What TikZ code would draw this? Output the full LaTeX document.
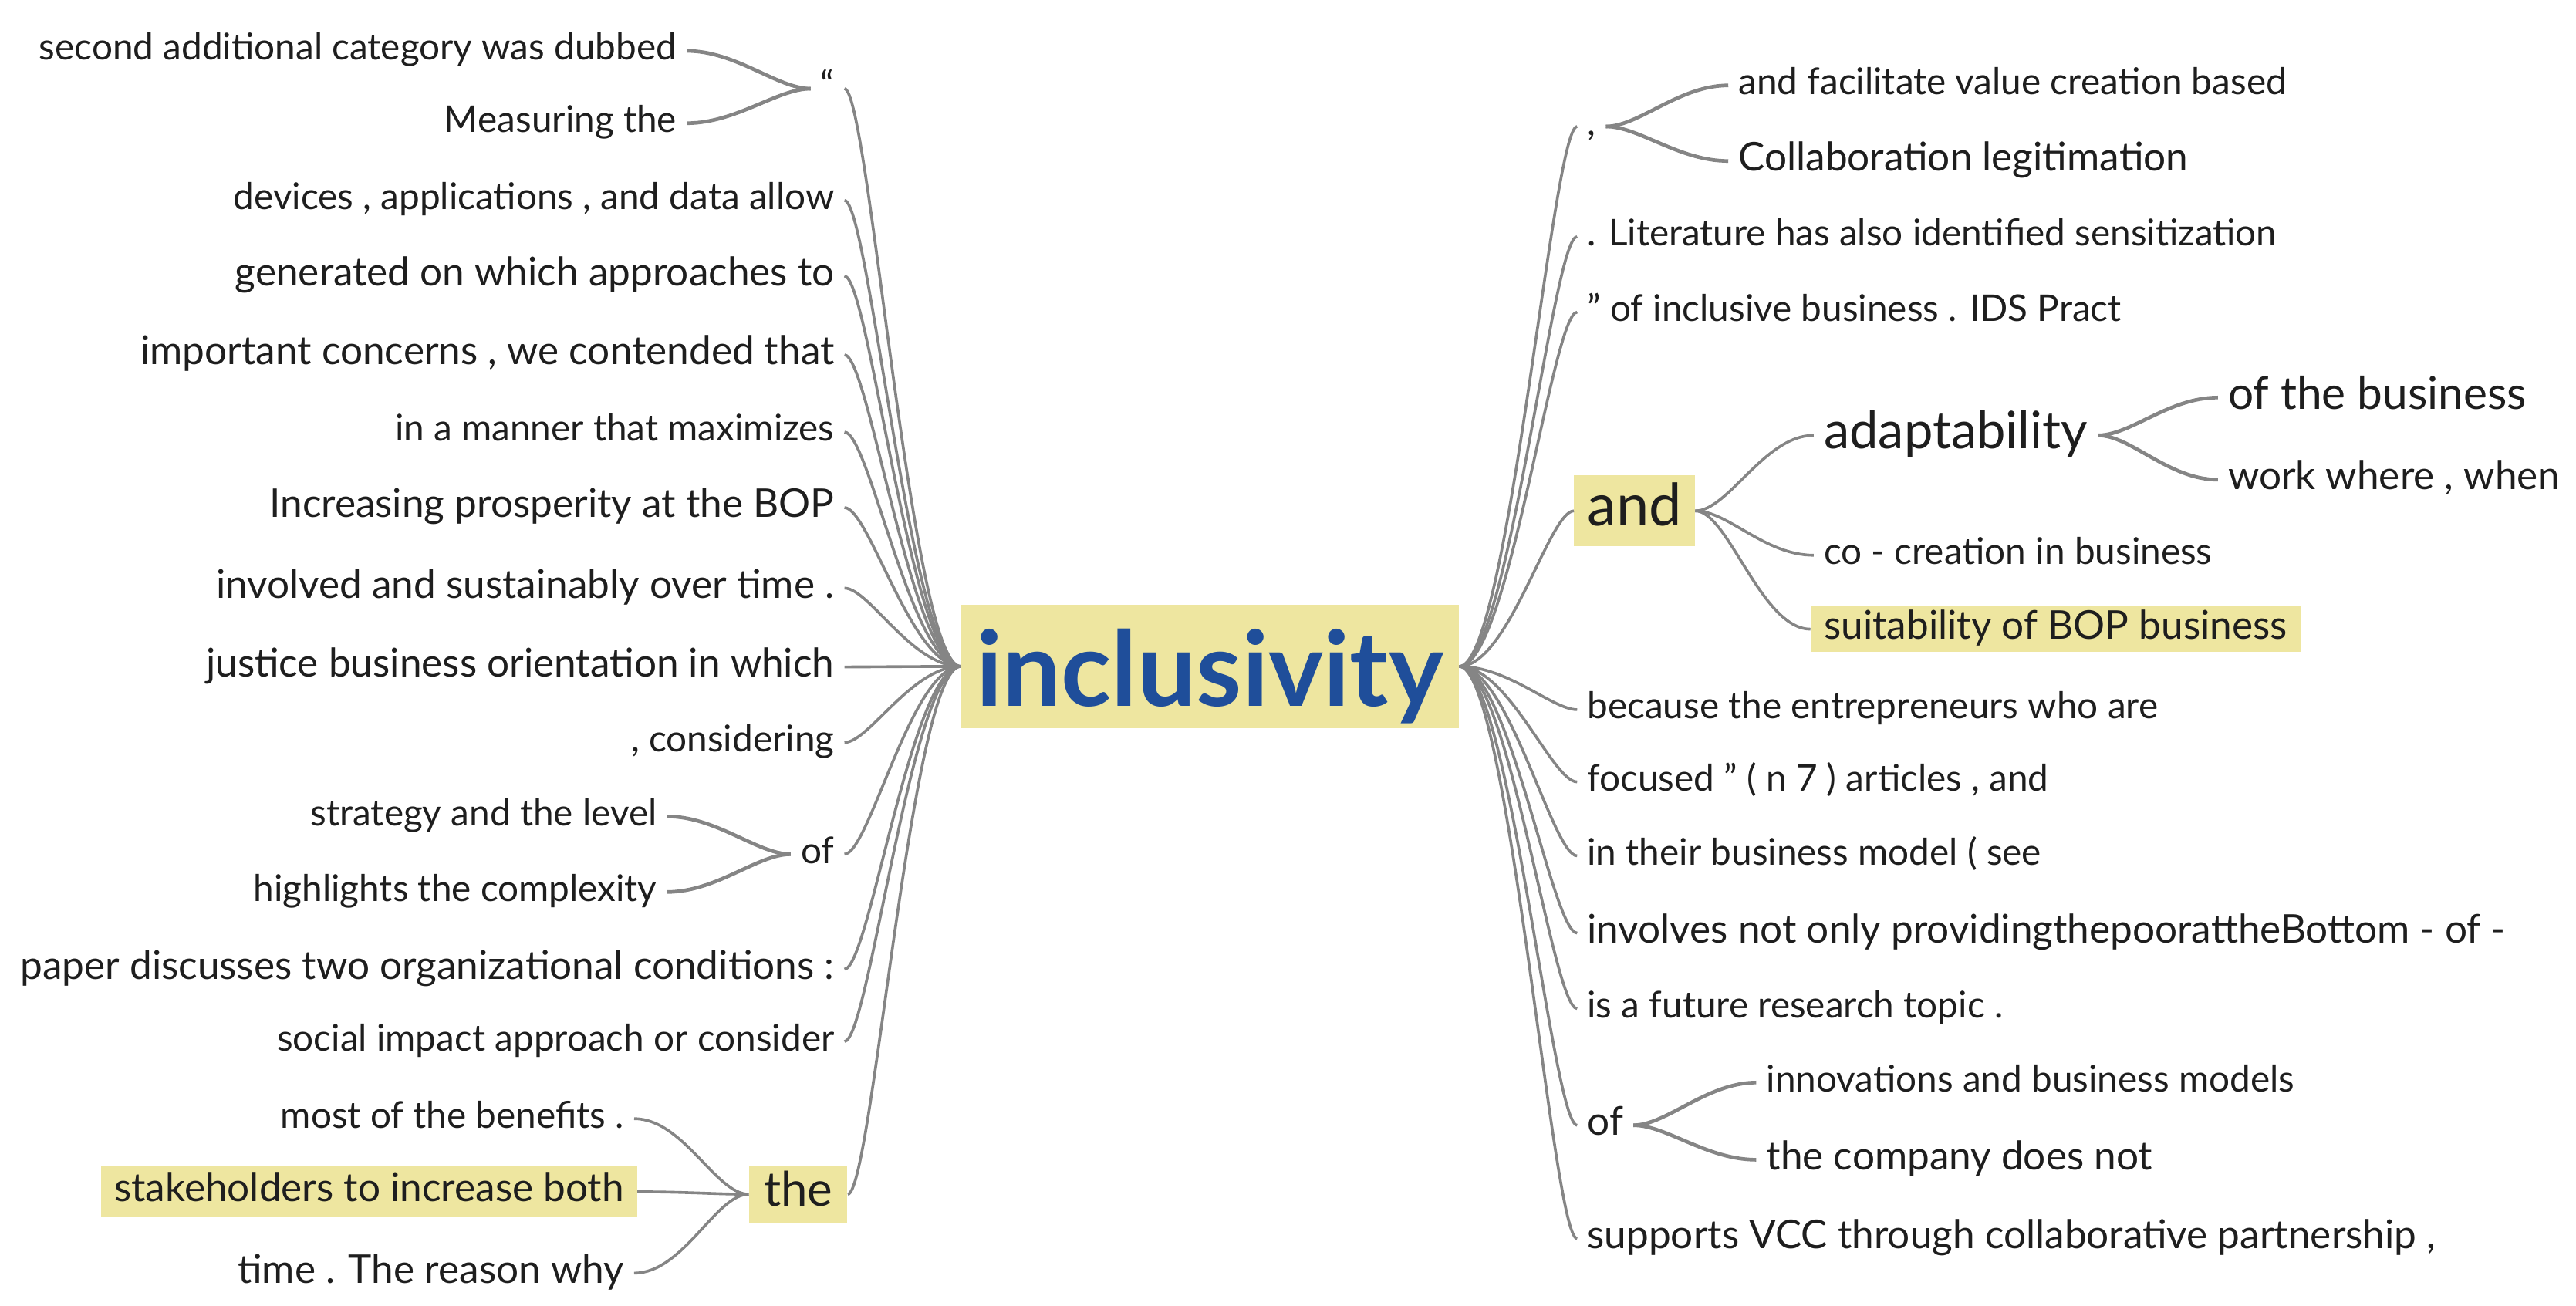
\documentclass[tikz,border=0pt]{standalone}
\usepackage{fontspec}
\setmainfont{Lato}
\definecolor{hilite}{HTML}{EEE6A0}
\definecolor{wordblue}{HTML}{1F4E9A}
\definecolor{linegray}{HTML}{858585}
\definecolor{textdark}{HTML}{1E1E1E}
\tikzset{
    word/.style={inner xsep=6pt, inner ysep=0pt, text=textdark, font=\fontsize{22.4}{26}\selectfont, text height=16.1pt, text depth=4.9pt},
    wordb/.style={word, font=\fontsize{24.1}{28}\selectfont, text height=17.3pt, text depth=5.3pt},
    midword/.style={word, font=\fontsize{27.5}{32}\selectfont, text height=19.8pt, text depth=6pt},
    bigword/.style={word, font=\fontsize{31.4}{36}\selectfont, text height=22.6pt, text depth=6.9pt},
    hiword/.style={fill=hilite, inner xsep=8pt},
    link/.style={draw=linegray, line width=1.7pt},
    sublink/.style={draw=linegray, line width=2.2pt},
}

\begin{document}
\begin{tikzpicture}[x=1pt, y=-1pt]
    \useasboundingbox (0,0) rectangle (1568,795);
    \node[fill=hilite, text=wordblue, font=\bfseries\fontsize{63.4}{70}\selectfont, inner sep=0pt, text height=58pt, text depth=10pt, minimum width=303pt, minimum height=75.5pt] (incl) at (736.5,405.7) {inclusivity};

    % left side
    \node[word, anchor=east] (qt) at (514,54) {“};
    \node[word, anchor=east] (dubbed) at (418,31) {second additional category was dubbed};
    \node[word, anchor=east] (measuring) at (418,75) {Measuring the};
    \node[word, anchor=east] (devices) at (514,122) {devices , applications , and data allow};
    \node[wordb, anchor=east] (generated) at (514,168) {generated on which approaches to};
    \node[wordb, anchor=east] (concerns) at (514,216) {important concerns , we contended that};
    \node[word, anchor=east] (manner) at (514,263) {in a manner that maximizes};
    \node[wordb, anchor=east] (prosperity) at (514,309) {Increasing prosperity at the BOP};
    \node[wordb, anchor=east] (involved) at (514,358) {involved and sustainably over time .};
    \node[wordb, anchor=east] (justice) at (514,406) {justice business orientation in which};
    \node[word, anchor=east] (considering) at (514,452) {, considering};
    \node[word, anchor=east] (ofL) at (514,520) {of};
    \node[word, anchor=east] (strategy) at (406,497) {strategy and the level};
    \node[word, anchor=east] (complexity) at (406,543) {highlights the complexity};
    \node[wordb, anchor=east] (paper) at (514,590) {paper discusses two organizational conditions :};
    \node[word, anchor=east] (social) at (514,634) {social impact approach or consider};
    \node[word, hiword, inner xsep=9pt, inner ysep=3.9pt, font=\fontsize{29}{34}\selectfont, text height=20.9pt, text depth=6.4pt, anchor=east] (theL) at (516,727) {the};
    \node[word, anchor=east] (benefits) at (386,681) {most of the benefits .};
    \node[wordb, hiword, inner ysep=4.2pt, anchor=east] (stakeholders) at (388,725.5) {stakeholders to increase both};
    \node[wordb, anchor=east] (reason) at (386,775) {time . The reason why};

    % right side
    \node[word, anchor=west] (comma) at (960,77) {,};
    \node[word, anchor=west] (facilitate) at (1052,52) {and facilitate value creation based};
    \node[wordb, anchor=west] (collab) at (1052,98) {Collaboration legitimation};
    \node[word, anchor=west] (literature) at (960,144) {. Literature has also identified sensitization};
    \node[word, anchor=west] (ids) at (960,190) {” of inclusive business . IDS Pract};
    \node[word, hiword, inner ysep=5pt, font=\fontsize{35.6}{40}\selectfont, text height=25.6pt, text depth=7.8pt, anchor=west] (andR) at (958,311) {and};
    \node[bigword, anchor=west] (adapt) at (1104,265) {adaptability};
    \node[midword, anchor=west] (business) at (1350,242) {of the business};
    \node[wordb, anchor=west] (workwhere) at (1350,292) {work where , when};
    \node[word, anchor=west] (cocreation) at (1104,338) {co - creation in business};
    \node[wordb, hiword, inner ysep=2.7pt, anchor=west] (suitability) at (1102,383) {suitability of BOP business};
    \node[word, anchor=west] (because) at (960,432) {because the entrepreneurs who are};
    \node[word, anchor=west] (focused) at (960,476) {focused ” ( n 7 ) articles , and};
    \node[word, anchor=west] (model) at (960,521) {in their business model ( see};
    \node[wordb, anchor=west] (involves) at (960,568) {involves not only providingthepoorattheBottom - of -};
    \node[word, anchor=west] (topic) at (960,614) {is a future research topic .};
    \node[wordb, anchor=west] (ofR) at (960,685) {of};
    \node[word, anchor=west] (innovations) at (1069,659) {innovations and business models};
    \node[wordb, anchor=west] (company) at (1069,706) {the company does not};
    \node[wordb, anchor=west] (supports) at (960,754) {supports VCC through collaborative partnership ,};

    % links from the centre, left
    \draw[link] (incl.west) .. controls +(-30,0) and +(15,0) .. (qt.east);
    \draw[link] (incl.west) .. controls +(-30,0) and +(15,0) .. (devices.east);
    \draw[link] (incl.west) .. controls +(-30,0) and +(15,0) .. (generated.east);
    \draw[link] (incl.west) .. controls +(-30,0) and +(15,0) .. (concerns.east);
    \draw[link] (incl.west) .. controls +(-30,0) and +(15,0) .. (manner.east);
    \draw[link] (incl.west) .. controls +(-30,0) and +(15,0) .. (prosperity.east);
    \draw[link] (incl.west) .. controls +(-30,0) and +(15,0) .. (involved.east);
    \draw[link] (incl.west) .. controls +(-30,0) and +(15,0) .. (justice.east);
    \draw[link] (incl.west) .. controls +(-30,0) and +(15,0) .. (considering.east);
    \draw[link] (incl.west) .. controls +(-30,0) and +(15,0) .. (ofL.east);
    \draw[link] (incl.west) .. controls +(-30,0) and +(15,0) .. (paper.east);
    \draw[link] (incl.west) .. controls +(-30,0) and +(15,0) .. (social.east);
    \draw[link] (incl.west) .. controls +(-30,0) and +(15,0) .. (theL.east);

    % links from the centre, right
    \draw[link] (incl.east) .. controls +(30,0) and +(-15,0) .. (comma.west);
    \draw[link] (incl.east) .. controls +(30,0) and +(-15,0) .. (literature.west);
    \draw[link] (incl.east) .. controls +(30,0) and +(-15,0) .. (ids.west);
    \draw[link] (incl.east) .. controls +(30,0) and +(-15,0) .. (andR.west);
    \draw[link] (incl.east) .. controls +(30,0) and +(-15,0) .. (because.west);
    \draw[link] (incl.east) .. controls +(30,0) and +(-15,0) .. (focused.west);
    \draw[link] (incl.east) .. controls +(30,0) and +(-15,0) .. (model.west);
    \draw[link] (incl.east) .. controls +(30,0) and +(-15,0) .. (involves.west);
    \draw[link] (incl.east) .. controls +(30,0) and +(-15,0) .. (topic.west);
    \draw[link] (incl.east) .. controls +(30,0) and +(-15,0) .. (ofR.west);
    \draw[link] (incl.east) .. controls +(30,0) and +(-15,0) .. (supports.west);

    % sub branches
    \draw[sublink] (qt.west) .. controls +(-20,0) and +(30,0) .. (dubbed.east);
    \draw[sublink] (qt.west) .. controls +(-20,0) and +(30,0) .. (measuring.east);
    \draw[sublink] (ofL.west) .. controls +(-20,0) and +(30,0) .. (strategy.east);
    \draw[sublink] (ofL.west) .. controls +(-20,0) and +(30,0) .. (complexity.east);
    \draw[link] (theL.west) .. controls +(-20,0) and +(30,0) .. (benefits.east);
    \draw[link] (theL.west) .. controls +(-20,0) and +(30,0) .. (stakeholders.east);
    \draw[link] (theL.west) .. controls +(-20,0) and +(30,0) .. (reason.east);
    \draw[sublink] (comma.east) .. controls +(20,0) and +(-30,0) .. (facilitate.west);
    \draw[sublink] (comma.east) .. controls +(20,0) and +(-30,0) .. (collab.west);
    \draw[link] (andR.east) .. controls +(20,0) and +(-30,0) .. (adapt.west);
    \draw[link] (andR.east) .. controls +(20,0) and +(-30,0) .. (cocreation.west);
    \draw[link] (andR.east) .. controls +(20,0) and +(-30,0) .. (suitability.west);
    \draw[sublink] (adapt.east) .. controls +(20,0) and +(-30,0) .. (business.west);
    \draw[sublink] (adapt.east) .. controls +(20,0) and +(-30,0) .. (workwhere.west);
    \draw[sublink] (ofR.east) .. controls +(20,0) and +(-30,0) .. (innovations.west);
    \draw[sublink] (ofR.east) .. controls +(20,0) and +(-30,0) .. (company.west);
\end{tikzpicture}
\end{document}
